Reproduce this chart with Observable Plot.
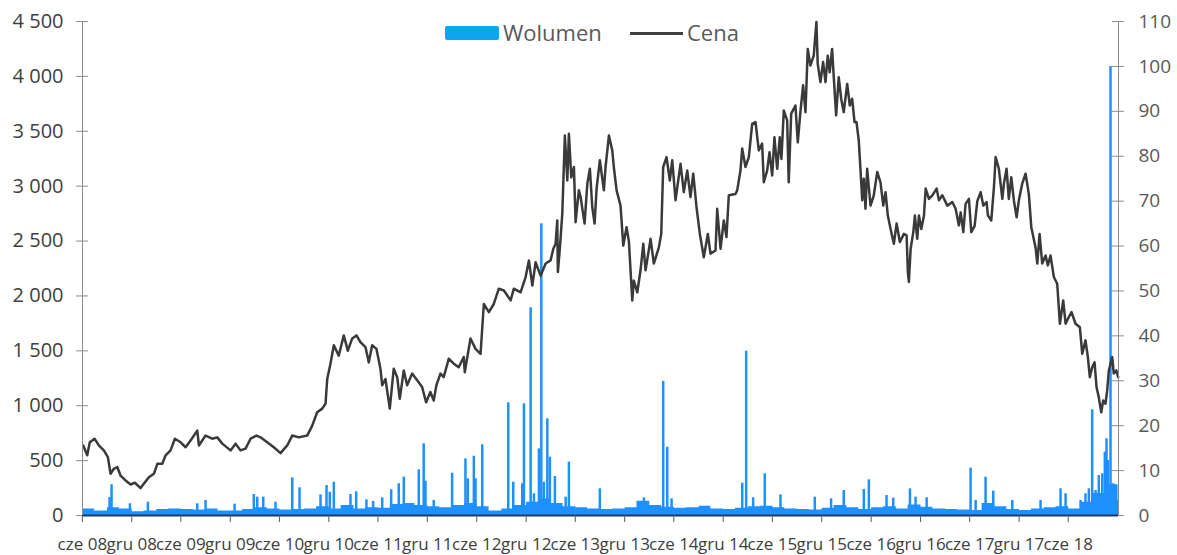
<!DOCTYPE html>
<html><head><meta charset="utf-8">
<script src="https://cdn.jsdelivr.net/npm/d3@7"></script>
<script src="https://cdn.jsdelivr.net/npm/@observablehq/plot@0.6"></script>
<style>
body{margin:0;background:#fff;font-family:"Open Sans",sans-serif;}
#wrap{position:relative;width:1177px;height:555px;}
.lg{position:absolute;}
.lt{position:absolute;font-size:22px;line-height:22px;color:#595959;white-space:nowrap;}
</style></head><body>
<div id="wrap"><div id="chart"></div>
<div class="lg" style="left:445px;top:26px;width:54px;height:14px;background:#0EA5F0;border-radius:2px;"></div>
<div class="lt" style="left:503px;top:21px;">Wolumen</div>
<div class="lg" style="left:630px;top:32px;width:53px;height:2.5px;background:#404040;"></div>
<div class="lt" style="left:687px;top:21px;">Cena</div>
</div>
<script>
// Cena (price, right axis) — decimal year / value
const priceYear = [2008.424,2008.465,2008.491,2008.539,2008.582,2008.633,2008.674,2008.701,2008.734,2008.769,2008.802,2008.853,2008.904,2008.947,2009.005,2009.039,2009.089,2009.140,2009.175,2009.225,2009.259,2009.309,2009.353,2009.411,2009.462,2009.512,2009.580,2009.597,2009.664,2009.732,2009.783,2009.834,2009.918,2009.969,2010.019,2010.070,2010.121,2010.182,2010.222,2010.290,2010.357,2010.425,2010.493,2010.544,2010.611,2010.696,2010.747,2010.797,2010.848,2010.882,2010.899,2010.932,2010.966,2011.016,2011.067,2011.108,2011.152,2011.196,2011.236,2011.287,2011.321,2011.355,2011.399,2011.439,2011.457,2011.490,2011.534,2011.574,2011.609,2011.635,2011.676,2011.710,2011.761,2011.812,2011.862,2011.903,2011.946,2011.980,2012.007,2012.048,2012.081,2012.132,2012.183,2012.233,2012.284,2012.294,2012.352,2012.403,2012.454,2012.487,2012.538,2012.588,2012.639,2012.690,2012.758,2012.791,2012.859,2012.910,2012.943,2012.978,2013.011,2013.062,2013.113,2013.163,2013.191,2013.214,2013.231,2013.237,2013.258,2013.282,2013.308,2013.333,2013.349,2013.373,2013.400,2013.417,2013.450,2013.468,2013.508,2013.536,2013.562,2013.586,2013.610,2013.630,2013.663,2013.704,2013.721,2013.755,2013.789,2013.805,2013.833,2013.873,2013.901,2013.934,2013.958,2013.992,2014.008,2014.043,2014.076,2014.104,2014.127,2014.178,2014.211,2014.262,2014.286,2014.306,2014.340,2014.373,2014.398,2014.431,2014.482,2014.515,2014.550,2014.583,2014.611,2014.644,2014.678,2014.718,2014.759,2014.786,2014.837,2014.854,2014.888,2014.921,2014.948,2014.972,2015.040,2015.057,2015.090,2015.108,2015.141,2015.175,2015.209,2015.243,2015.276,2015.310,2015.327,2015.361,2015.385,2015.412,2015.435,2015.463,2015.489,2015.506,2015.530,2015.564,2015.580,2015.605,2015.648,2015.672,2015.699,2015.726,2015.750,2015.773,2015.800,2015.834,2015.861,2015.874,2015.902,2015.929,2015.953,2015.976,2015.996,2016.020,2016.037,2016.061,2016.087,2016.112,2016.138,2016.173,2016.199,2016.223,2016.247,2016.267,2016.290,2016.307,2016.325,2016.341,2016.358,2016.375,2016.409,2016.442,2016.477,2016.510,2016.538,2016.561,2016.584,2016.612,2016.645,2016.673,2016.706,2016.747,2016.774,2016.787,2016.797,2016.815,2016.842,2016.858,2016.882,2016.899,2016.923,2016.950,2016.967,2017.000,2017.035,2017.078,2017.102,2017.136,2017.187,2017.238,2017.271,2017.304,2017.322,2017.349,2017.372,2017.406,2017.430,2017.464,2017.491,2017.525,2017.552,2017.585,2017.599,2017.633,2017.660,2017.677,2017.710,2017.745,2017.761,2017.788,2017.811,2017.836,2017.862,2017.890,2017.913,2017.947,2017.981,2018.014,2018.039,2018.082,2018.100,2018.123,2018.150,2018.184,2018.207,2018.234,2018.268,2018.302,2018.329,2018.363,2018.387,2018.420,2018.447,2018.488,2018.532,2018.556,2018.589,2018.613,2018.633,2018.657,2018.681,2018.701,2018.724,2018.749,2018.769,2018.792,2018.809,2018.826,2018.860,2018.876,2018.901,2018.921];
const priceValue = [15.6,13.4,16.3,17.1,15.6,14.5,13.0,9.3,10.4,10.8,8.9,7.8,6.9,7.3,6.1,7.1,8.5,9.3,11.5,11.5,13.4,14.5,17.1,16.3,15.2,16.7,18.9,15.6,17.8,17.1,17.4,16.0,14.5,16.0,14.5,14.9,17.1,17.8,17.4,16.3,15.2,13.9,15.6,17.8,17.4,17.8,20.0,23.0,23.8,24.9,30.4,33.8,37.9,35.6,40.1,36.7,39.4,40.1,38.6,37.5,34.1,37.9,37.1,32.7,29.0,30.4,23.8,32.7,30.8,26.0,32.3,29.0,31.6,30.1,28.6,25.2,27.5,25.6,29.0,31.6,30.8,34.9,33.8,33.0,35.3,31.9,39.4,37.1,36.0,47.1,45.3,47.1,50.5,50.1,47.9,50.5,49.7,53.1,56.8,51.2,56.4,53.4,56.1,56.8,59.4,60.5,65.7,54.2,59.7,67.2,84.6,74.6,85.0,75.3,77.6,65.3,72.4,70.9,65.0,73.9,77.2,68.7,65.0,72.8,79.1,72.4,77.6,84.6,81.3,77.6,72.4,69.0,60.1,64.2,61.0,47.9,52.3,49.7,54.6,60.5,54.6,61.6,56.1,59.7,62.7,77.6,79.8,74.6,79.1,70.2,78.3,72.0,76.8,70.9,76.1,68.7,62.7,57.5,62.7,58.3,59.0,68.3,59.4,65.7,62.0,71.3,71.6,72.4,76.8,81.7,77.6,79.8,87.2,87.6,81.3,82.8,74.2,76.8,80.9,75.7,84.2,77.2,84.2,79.4,90.2,88.0,74.2,89.5,91.3,83.1,90.0,95.8,89.8,103.9,100.2,102.4,109.9,100.6,96.5,101.0,96.5,102.4,98.7,103.9,97.6,89.1,97.6,92.8,89.8,96.1,91.3,92.8,87.6,87.6,83.5,77.2,70.2,75.0,68.3,77.2,69.0,71.3,76.5,74.2,69.0,72.0,66.8,63.8,60.5,65.0,60.9,62.7,62.4,54.2,52.0,59.4,63.1,66.8,61.6,66.8,63.8,66.8,72.8,70.5,71.3,72.8,70.2,71.3,69.0,69.8,68.3,64.6,67.5,63.1,69.4,70.5,63.1,64.5,70.0,72.0,69.0,69.8,66.8,65.7,73.1,79.8,77.2,70.5,73.9,77.2,70.5,75.3,70.2,66.4,70.2,73.9,76.1,71.6,64.2,59.7,56.1,62.7,56.1,57.9,55.7,57.9,53.1,51.6,42.7,47.9,42.7,44.2,45.3,42.7,41.9,36.0,39.0,35.3,30.8,33.0,34.1,28.6,26.3,23.0,25.6,24.9,27.8,32.3,35.3,31.6,32.3,30.8];

// Wolumen (volume, left axis) — base level readings
const volBaseYear = [2008.42,2008.54,2008.67,2008.79,2008.92,2009.04,2009.17,2009.29,2009.42,2009.54,2009.67,2009.79,2009.92,2010.04,2010.17,2010.29,2010.42,2010.54,2010.67,2010.79,2010.92,2011.04,2011.17,2011.29,2011.42,2011.54,2011.67,2011.79,2011.92,2012.04,2012.17,2012.29,2012.42,2012.54,2012.67,2012.79,2012.92,2013.04,2013.17,2013.29,2013.42,2013.54,2013.67,2013.79,2013.92,2014.04,2014.17,2014.29,2014.42,2014.54,2014.67,2014.79,2014.92,2015.04,2015.17,2015.29,2015.42,2015.54,2015.67,2015.79,2015.92,2016.04,2016.17,2016.29,2016.42,2016.54,2016.67,2016.79,2016.92,2017.04,2017.17,2017.29,2017.42,2017.54,2017.67,2017.79,2017.92,2018.04,2018.17,2018.29,2018.42,2018.54,2018.67,2018.79,2018.92];
const volBaseValue = [60,40,70,60,35,40,55,60,55,50,60,40,40,55,70,60,50,55,60,80,60,90,60,70,65,100,110,90,80,70,90,110,80,40,60,90,120,150,110,80,70,60,55,60,70,130,90,75,65,70,85,60,55,65,80,85,70,60,55,50,65,90,70,55,70,80,60,95,75,60,55,50,45,110,80,55,45,60,70,80,60,120,200,280,120];
// Wolumen — individual spikes
const volSpikeYear = [2008.691,2008.711,2008.897,2009.079,2009.580,2009.664,2009.959,2010.154,2010.189,2010.250,2010.374,2010.544,2010.618,2010.831,2010.892,2010.925,2010.966,2011.135,2011.193,2011.297,2011.365,2011.457,2011.548,2011.625,2011.676,2011.828,2011.878,2011.896,2011.980,2012.166,2012.301,2012.325,2012.386,2012.403,2012.471,2012.734,2012.785,2012.876,2012.893,2012.961,2012.994,2013.045,2013.069,2013.095,2013.130,2013.156,2013.207,2013.316,2013.349,2013.663,2014.110,2014.306,2014.347,2014.391,2015.108,2015.148,2015.219,2015.337,2015.496,2015.844,2016.010,2016.138,2016.341,2016.392,2016.571,2016.639,2016.808,2016.865,2016.977,2017.423,2017.474,2017.575,2017.653,2017.846,2018.133,2018.336,2018.387,2018.539,2018.589,2018.623,2018.657,2018.691,2018.724,2018.759,2018.785,2018.802,2018.816,2018.843,2018.870,2018.894,2018.917];
const volSpikeValue = [164,280,107,121,107,137,103,191,167,167,121,343,252,188,273,212,303,191,216,143,128,161,234,289,349,416,653,313,138,385,516,334,540,334,644,1027,303,289,1017,1892,198,607,2657,303,881,531,355,167,486,243,161,1221,622,152,294,1497,161,380,188,167,152,228,237,325,182,158,243,167,161,431,137,349,222,137,137,243,198,137,198,243,963,228,364,380,577,699,501,4090,289,228,137];

const monthAbbr = ["sty","lut","mar","kwi","maj","cze","lip","sie","wrz","paź","lis","gru"];
const volTicks = [0,500,1000,1500,2000,2500,3000,3500,4000,4500];
const priceTicks = [0,10,20,30,40,50,60,70,80,90,100,110];
const xStartYear = 2008.417, xEndYear = 2018.924;

const W = 1177, H = 555, ML = 82, MR = 59, MT = 21, MB = 40;
const K = 4500 / 110;
function toDate(y){const yr=Math.floor(y);const s=Date.UTC(yr,0,1),e=Date.UTC(yr+1,0,1);return new Date(s+(y-yr)*(e-s));}
const price = priceYear.map((t,i)=>({date:toDate(t), v:priceValue[i]*K}));
const base = volBaseYear.map((t,i)=>({date:toDate(t), v:volBaseValue[i]}));
const spikes = volSpikeYear.map((t,i)=>({date:toDate(t), v:volSpikeValue[i]}));
const x0 = toDate(xStartYear), x1 = toDate(xEndYear);
// half-length of y ticks (6px) and length of x ticks (7px) expressed in scale units
const pxYears = (xEndYear - xStartYear) / (W - ML - MR);
const pxVol = 4500 / (H - MT - MB);
const halfTick = 6 * pxYears;
const xTicks = d3.utcMonths(new Date(Date.UTC(2008,5,1)), new Date(Date.UTC(2018,6,2)), 6);
const fmtVol = d => d3.format(",")(d).replace(/,/g," ");
const fmtX = d => monthAbbr[d.getUTCMonth()] + " " + String(d.getUTCFullYear()).slice(2);
const blue = "#1E90FF", axisGrey = "#8c8c8c";

const chart = Plot.plot({
  width:W, height:H, marginLeft:ML, marginRight:MR, marginTop:MT, marginBottom:MB,
  style:{fontFamily:"'Open Sans', sans-serif", background:"white"},
  x:{type:"utc", domain:[x0,x1], axis:null},
  y:{domain:[0,4500], axis:null},
  marks:[
    Plot.areaY(base, {x:"date", y:"v", curve:"step-after", fill:blue}),
    Plot.ruleX(spikes, {x:"date", y1:0, y2:"v", stroke:blue, strokeWidth:2.5}),
    Plot.line(price, {x:"date", y:"v", stroke:"#3a3a3a", strokeWidth:2.5}),
    // left axis
    Plot.ruleX([x0], {y1:0, y2:4500, stroke:axisGrey}),
    Plot.ruleY(volTicks, {y:d=>d, x1:toDate(xStartYear-halfTick), x2:toDate(xStartYear+halfTick), stroke:axisGrey}),
    Plot.text(volTicks, {y:d=>d, text:fmtVol, frameAnchor:"left", dx:-19, textAnchor:"end", fontSize:20, fill:"#404040"}),
    // right axis
    Plot.ruleX([x1], {y1:0, y2:4500, stroke:axisGrey}),
    Plot.ruleY(priceTicks, {y:d=>d*K, x1:toDate(xEndYear-halfTick), x2:toDate(xEndYear+halfTick), stroke:axisGrey}),
    Plot.text(priceTicks, {y:d=>d*K, text:d=>String(d), frameAnchor:"right", dx:20, textAnchor:"start", fontSize:19, fill:"#595959"}),
    // x axis
    Plot.ruleY([0], {x1:x0, x2:x1, stroke:"#1F3864", strokeWidth:1.8}),
    Plot.ruleX(xTicks, {x:d=>d, y1:0, y2:-7*pxVol, stroke:"#595959"}),
    Plot.text(xTicks, {x:d=>d, text:fmtX, frameAnchor:"bottom", dy:22, lineAnchor:"top", fontSize:17, fill:"#404040"})
  ]
});
document.getElementById("chart").appendChild(chart);
</script></body></html>
